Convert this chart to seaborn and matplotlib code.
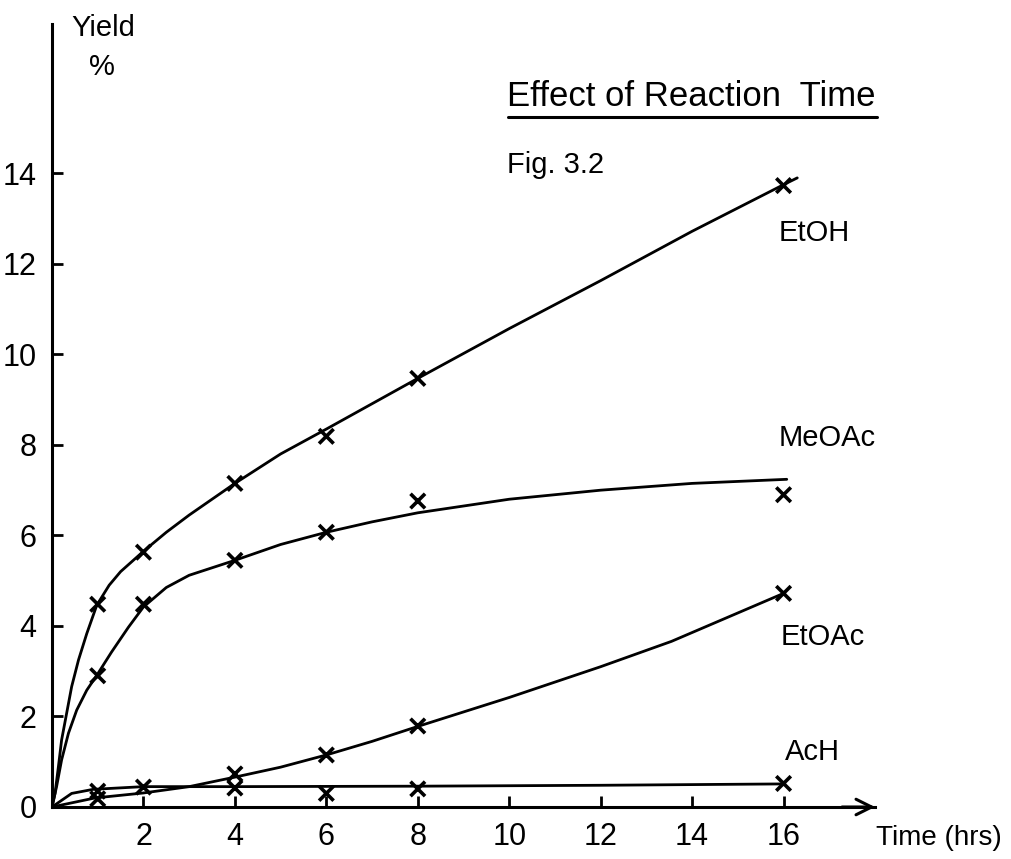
import matplotlib
matplotlib.use("Agg")
import matplotlib.pyplot as plt
from matplotlib.lines import Line2D
import pandas as pd
import seaborn as sns

# measured points (hrs, yield %)
times_pts = [1, 2, 4, 6, 8, 16]
etoh_pts = [4.48, 5.63, 7.15, 8.19, 9.47, 13.73]
meoac_pts = [2.90, 4.48, 5.45, 6.07, 6.76, 6.90]
etoac_times = [1, 4, 6, 8, 16]
etoac_pts = [0.18, 0.73, 1.15, 1.79, 4.72]
ach_pts = [0.35, 0.44, 0.42, 0.30, 0.40, 0.52]

# hand-drawn smooth curves
etoh_curve_t = [0, 0.066, 0.14, 0.21, 0.32, 0.43, 0.58, 0.76, 0.98, 1.25, 1.5, 2, 2.5, 3, 4, 5, 6, 8, 10, 12, 14, 16, 16.3]
etoh_curve_y = [0, 0.30, 0.89, 1.48, 2.07, 2.66, 3.25, 3.83, 4.46, 4.9, 5.2, 5.65, 6.07, 6.45, 7.15, 7.8, 8.35, 9.47, 10.57, 11.63, 12.72, 13.75, 13.9]
meoac_curve_t = [0, 0.10, 0.21, 0.36, 0.54, 0.76, 0.98, 1.30, 1.67, 2.0, 2.5, 3, 4, 5, 6, 7, 8, 10, 12, 14, 16.07]
meoac_curve_y = [0, 0.45, 1.04, 1.63, 2.14, 2.58, 2.91, 3.42, 3.97, 4.42, 4.85, 5.12, 5.45, 5.8, 6.07, 6.3, 6.5, 6.8, 7.0, 7.15, 7.24]
etoac_curve_t = [0, 0.94, 2, 3, 4, 5, 6, 7, 8, 10, 12, 13.55, 16]
etoac_curve_y = [0, 0.2, 0.31, 0.45, 0.66, 0.88, 1.15, 1.45, 1.78, 2.42, 3.1, 3.66, 4.72]
ach_curve_t = [0, 0.43, 0.9, 2, 4, 8, 12, 16]
ach_curve_y = [0, 0.30, 0.39, 0.45, 0.45, 0.46, 0.48, 0.51]

x_ticks = [2, 4, 6, 8, 10, 12, 14, 16]
y_ticks = [0, 2, 4, 6, 8, 10, 12, 14]

curves = pd.concat([
    pd.DataFrame({"t": etoh_curve_t, "y": etoh_curve_y, "s": "EtOH"}),
    pd.DataFrame({"t": meoac_curve_t, "y": meoac_curve_y, "s": "MeOAc"}),
    pd.DataFrame({"t": etoac_curve_t, "y": etoac_curve_y, "s": "EtOAc"}),
    pd.DataFrame({"t": ach_curve_t, "y": ach_curve_y, "s": "AcH"}),
])
points = pd.concat([
    pd.DataFrame({"t": times_pts, "y": etoh_pts, "s": "EtOH"}),
    pd.DataFrame({"t": times_pts, "y": meoac_pts, "s": "MeOAc"}),
    pd.DataFrame({"t": etoac_times, "y": etoac_pts, "s": "EtOAc"}),
    pd.DataFrame({"t": times_pts, "y": ach_pts, "s": "AcH"}),
])

sns.set_style("ticks")
plt.rcParams["font.family"] = ["Liberation Sans", "DejaVu Sans"]

fig = plt.figure(figsize=(10.12, 8.59), dpi=100)
ax = fig.add_axes([52 / 1012, 1 - 807 / 859, (875 - 52) / 1012, (807 - 24) / 859])

pal = {k: "black" for k in ["EtOH", "MeOAc", "EtOAc", "AcH"]}
sns.lineplot(data=curves, x="t", y="y", hue="s", palette=pal, sort=False,
             estimator=None, linewidth=2.0, legend=False, ax=ax)
sns.scatterplot(data=points, x="t", y="y", hue="s", palette=pal, marker="x",
                s=110, linewidth=2.6, legend=False, ax=ax, zorder=3)

ax.set_xlim(0, 18)
ax.set_ylim(0, 17.3)
ax.set_xticks(x_ticks)
ax.set_yticks(y_ticks)
ax.set_xticklabels([str(v) for v in x_ticks])
ax.set_yticklabels([str(v) for v in y_ticks])
ax.set_xlabel("")
ax.set_ylabel("")
sns.despine(ax=ax)
for sp in ["left", "bottom"]:
    ax.spines[sp].set_linewidth(2.2)
    ax.spines[sp].set_color("black")
ax.tick_params(direction="in", length=8, width=2, colors="black",
               labelsize=22)
ax.tick_params(axis="x", pad=11)
ax.tick_params(axis="y", pad=11)
ax.annotate("", xy=(1.0, 0), xytext=(0.96, 0), xycoords="axes fraction",
            arrowprops=dict(arrowstyle="->", lw=2.2, color="black",
                            mutation_scale=28, shrinkA=0, shrinkB=0),
            annotation_clip=False)

def ftext(px, py, s, size=21):
    fig.text(px / 1012, 1 - py / 859, s, va="center", ha="left",
             fontsize=size, color="black")

ftext(71, 28, "Yield")
ftext(89, 67, "%")
ftext(507, 97, "Effect of Reaction  Time", size=25)
fig.add_artist(Line2D([508 / 1012, 877 / 1012], [1 - 117 / 859, 1 - 117 / 859],
                      color="black", linewidth=2.2))
ftext(507, 165, "Fig. 3.2")
ftext(779, 233, "EtOH")
ftext(779, 438, "MeOAc")
ftext(781, 637, "EtOAc")
ftext(785, 752, "AcH")
ftext(876, 838, "Time (hrs)", size=20)

fig.savefig("out.png", dpi=100)
